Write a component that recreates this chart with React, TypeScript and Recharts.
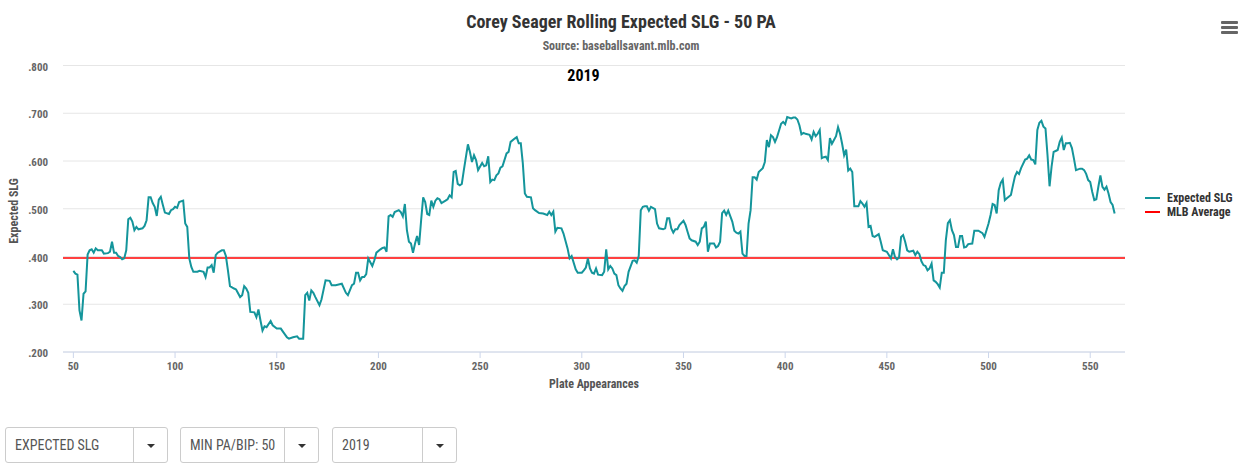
import { LineChart, Line, XAxis, YAxis, CartesianGrid, ReferenceLine } from "recharts";

const FONT = "'Roboto Condensed', 'Liberation Sans Narrow', 'DejaVu Sans Condensed', Roboto, sans-serif";

// plate appearance (x) and rolling xSLG (y)
const plateAppearances = [
  50, 51, 52, 53, 54, 55, 56, 57, 58, 59,
  60, 61, 62, 64, 65, 67, 68, 69, 70, 71,
  72, 73, 74, 75, 76, 77, 78, 79, 80, 81,
  82, 84, 85, 86, 87, 88, 89, 90, 91, 92,
  93, 94, 95, 97, 98, 99, 100, 101, 102, 104,
  105, 106, 107, 108, 109, 111, 112, 114, 115, 116,
  117, 118, 119, 120, 121, 123, 124, 125, 126, 127,
  129, 130, 132, 133, 134, 135, 136, 137, 139, 140,
  141, 142, 143, 144, 145, 147, 148, 150, 152, 154,
  155, 156, 158, 160, 161, 163, 164, 165, 166, 167,
  168, 169, 171, 172, 174, 176, 177, 179, 182, 184,
  185, 187, 188, 189, 190, 191, 192, 193, 194, 195,
  197, 198, 199, 201, 202, 203, 204, 205, 206, 207,
  208, 210, 211, 212, 213, 214, 215, 216, 217, 218,
  219, 220, 221, 222, 223, 224, 225, 226, 227, 228,
  229, 230, 231, 233, 234, 235, 236, 237, 238, 239,
  240, 241, 242, 244, 245, 246, 247, 248, 249, 251,
  252, 253, 254, 255, 256, 257, 258, 259, 260, 261,
  263, 264, 265, 267, 268, 269, 270, 271, 272, 273,
  275, 276, 277, 279, 281, 283, 284, 285, 286, 287,
  288, 290, 291, 293, 294, 295, 297, 298, 300, 301,
  302, 303, 304, 305, 306, 307, 308, 310, 311, 312,
  313, 314, 315, 316, 317, 318, 319, 320, 321, 322,
  323, 325, 326, 327, 328, 329, 330, 331, 332, 333,
  334, 336, 337, 338, 340, 341, 342, 343, 344, 345,
  346, 347, 348, 350, 351, 352, 353, 354, 356, 357,
  358, 359, 360, 361, 362, 363, 365, 366, 367, 368,
  369, 370, 371, 372, 374, 375, 376, 377, 378, 379,
  380, 381, 382, 383, 384, 385, 386, 387, 389, 390,
  391, 392, 393, 394, 395, 396, 397, 398, 399, 400,
  401, 403, 404, 405, 406, 407, 408, 409, 410, 412,
  413, 414, 415, 416, 417, 418, 419, 420, 421, 422,
  423, 425, 426, 427, 428, 429, 430, 431, 432, 433,
  434, 436, 437, 438, 439, 440, 441, 442, 443, 444,
  446, 447, 448, 450, 452, 453, 454, 455, 456, 457,
  458, 459, 460, 461, 463, 464, 465, 466, 467, 468,
  469, 470, 471, 472, 473, 474, 475, 476, 477, 478,
  479, 480, 481, 482, 483, 484, 485, 486, 487, 488,
  489, 490, 492, 493, 495, 497, 498, 499, 500, 501,
  502, 503, 504, 505, 506, 507, 508, 509, 511, 512,
  513, 514, 515, 516, 518, 519, 520, 521, 522, 523,
  524, 525, 526, 527, 528, 529, 530, 531, 532, 533,
  534, 535, 536, 537, 538, 539, 540, 541, 542, 543,
  545, 546, 547, 548, 549, 550, 551, 552, 553, 554,
  555, 556, 557, 558, 559, 560, 561, 562,
];

const expectedSlg = [
  .370, .364, .362, .287, .266, .322, .327, .404, .413, .415,
  .408, .417, .413, .413, .406, .407, .410, .431, .408, .408,
  .401, .399, .394, .396, .413, .478, .481, .473, .455, .462,
  .457, .459, .464, .476, .524, .524, .512, .504, .485, .519,
  .525, .508, .492, .489, .497, .499, .504, .502, .514, .517,
  .469, .462, .396, .378, .368, .368, .370, .368, .357, .377,
  .377, .382, .366, .403, .408, .413, .413, .401, .371, .338,
  .333, .331, .315, .319, .338, .333, .324, .284, .283, .273,
  .289, .266, .245, .254, .252, .265, .256, .249, .249, .237,
  .231, .228, .231, .233, .228, .228, .319, .324, .308, .329,
  .324, .315, .298, .310, .350, .349, .340, .340, .343, .324,
  .319, .340, .343, .366, .366, .350, .357, .357, .363, .396,
  .380, .392, .408, .415, .418, .419, .410, .484, .487, .483,
  .493, .497, .493, .484, .510, .455, .431, .427, .408, .427,
  .443, .424, .476, .524, .514, .489, .487, .517, .504, .517,
  .522, .520, .512, .517, .520, .528, .524, .577, .579, .552,
  .549, .552, .581, .635, .619, .598, .612, .602, .581, .596,
  .589, .591, .610, .556, .561, .560, .570, .574, .586, .589,
  .616, .619, .640, .647, .650, .637, .637, .595, .532, .525,
  .524, .501, .497, .491, .490, .487, .494, .487, .494, .452,
  .460, .459, .448, .417, .396, .401, .373, .366, .366, .371,
  .377, .396, .375, .366, .364, .375, .362, .361, .368, .415,
  .373, .380, .375, .364, .361, .340, .333, .328, .338, .343,
  .368, .391, .392, .387, .401, .497, .504, .505, .505, .496,
  .504, .499, .469, .459, .457, .459, .480, .480, .459, .450,
  .457, .457, .466, .475, .466, .452, .438, .434, .431, .424,
  .431, .459, .462, .473, .410, .427, .427, .419, .422, .431,
  .491, .496, .487, .496, .473, .454, .450, .448, .452, .406,
  .401, .401, .469, .497, .566, .566, .561, .577, .585, .598,
  .644, .629, .654, .650, .640, .650, .664, .678, .682, .677,
  .692, .689, .691, .691, .687, .675, .656, .659, .657, .655,
  .645, .661, .652, .657, .665, .606, .608, .609, .602, .648,
  .636, .652, .671, .657, .636, .612, .624, .580, .584, .577,
  .505, .505, .516, .511, .504, .512, .462, .464, .443, .441,
  .447, .431, .413, .410, .396, .415, .399, .394, .398, .441,
  .445, .431, .413, .410, .412, .403, .410, .405, .390, .382,
  .380, .371, .375, .385, .350, .347, .342, .335, .366, .366,
  .434, .470, .476, .455, .445, .420, .420, .443, .443, .419,
  .420, .426, .427, .454, .454, .449, .441, .455, .469, .487,
  .510, .508, .490, .539, .554, .561, .518, .522, .529, .549,
  .568, .577, .573, .585, .603, .605, .612, .603, .602, .593,
  .665, .680, .684, .672, .668, .612, .547, .588, .619, .621,
  .623, .640, .649, .623, .637, .637, .638, .627, .605, .581,
  .584, .584, .581, .573, .560, .556, .535, .518, .520, .546,
  .570, .546, .540, .546, .532, .514, .508, .490,
];

const mlbAverage = 0.397;
const yTicks = [0.2, 0.3, 0.4, 0.5, 0.6, 0.7, 0.8];
const xTicks = [50, 100, 150, 200, 250, 300, 350, 400, 450, 500, 550];
const dropdowns = ["EXPECTED SLG", "MIN PA/BIP: 50", "2019"];
const dropdownBoxes = [
  { left: 5, width: 163, split: 127 },
  { left: 180, width: 139, split: 103 },
  { left: 332, width: 125, split: 89 },
];

const TEAL = "#14959b";

const data = plateAppearances.map((pa, i) => ({ pa, xslg: expectedSlg[i] }));

const fmt = (v: number) => v.toFixed(3).replace(/^0/, "");

function YTick(props: any) {
  const { y, payload } = props;
  return (
    <text x={48} y={y + 5} textAnchor="end" fontFamily={FONT} fontSize={11} fontWeight={700} fill="#666">
      {fmt(payload.value)}
    </text>
  );
}

function XTick(props: any) {
  const { x, payload } = props;
  return (
    <text x={x} y={370} textAnchor="middle" fontFamily={FONT} fontSize={11} fontWeight={700} fill="#666">
      {payload.value}
    </text>
  );
}

export default function App() {
  return (
    <div style={{ position: "relative", width: 1242, height: 474, background: "#fff", fontFamily: FONT, overflow: "hidden" }}>
      <style>{"body{margin:0}"}</style>
      <div style={{ position: "absolute", left: 0, top: 11, width: 1242, textAlign: "center", fontSize: 18, fontWeight: 700, color: "#333" }}>
        Corey Seager Rolling Expected SLG - 50 PA
      </div>
      <div style={{ position: "absolute", left: 0, top: 39, width: 1242, textAlign: "center", fontSize: 12, fontWeight: 700, color: "#666" }}>
        Source: baseballsavant.mlb.com
      </div>
      <div style={{ position: "absolute", left: 0, top: 0, width: 1242, height: 474 }}>
        <LineChart width={1242} height={400} data={data} margin={{ top: 65.5, right: 117, bottom: 18, left: 0 }}>
          <CartesianGrid vertical={false} stroke="#e6e6e6" />
          <XAxis
            dataKey="pa"
            type="number"
            domain={[44.9, 567.1]}
            ticks={xTicks}
            height={30}
            stroke="#ccd6eb"
            tickLine={{ stroke: "#ccd6eb" }}
            tick={<XTick />}
            allowDataOverflow
          />
          <YAxis
            type="number"
            domain={[0.2, 0.8]}
            ticks={yTicks}
            width={63}
            axisLine={false}
            tickLine={false}
            tick={<YTick />}
          />
          <ReferenceLine y={mlbAverage} stroke="#ff0000" strokeWidth={1.5} />
          <Line
            dataKey="xslg"
            type="linear"
            stroke={TEAL}
            strokeWidth={2}
            dot={false}
            isAnimationActive={false}
          />
        </LineChart>
      </div>
      <div style={{ position: "absolute", left: 0, top: 66, width: 1167, textAlign: "center", fontSize: 16, fontWeight: 700, color: "#000" }}>
        2019
      </div>
      <div
        style={{
          position: "absolute",
          left: 14,
          top: 211,
          transform: "translate(-50%, -50%) rotate(-90deg)",
          fontSize: 12,
          fontWeight: 700,
          color: "#555",
          whiteSpace: "nowrap",
        }}
      >
        Expected SLG
      </div>
      <div style={{ position: "absolute", left: 63, top: 377, width: 1062, textAlign: "center", fontSize: 12, fontWeight: 700, color: "#555" }}>
        Plate Appearances
      </div>
      {/* legend */}
      {[
        { label: "Expected SLG", color: TEAL, top: 191 },
        { label: "MLB Average", color: "#ff0000", top: 205 },
      ].map((item) => (
        <div key={item.label} style={{ position: "absolute", left: 1145, top: item.top, display: "flex", alignItems: "center", height: 14 }}>
          <div style={{ width: 15, height: 2, background: item.color, marginRight: 7 }} />
          <span style={{ fontSize: 12, fontWeight: 700, color: "#333", whiteSpace: "nowrap" }}>{item.label}</span>
        </div>
      ))}
      {/* menu icon */}
      {[21, 26, 31].map((t) => (
        <div key={t} style={{ position: "absolute", left: 1221, top: t, width: 17, height: 2.5, background: "#666", borderRadius: 1 }} />
      ))}
      {/* dropdowns */}
      {dropdowns.map((label, i) => {
        const b = dropdownBoxes[i];
        return (
          <div
            key={label}
            style={{
              position: "absolute",
              left: b.left,
              top: 427,
              width: b.width,
              height: 36,
              border: "1px solid #ccc",
              borderRadius: 3,
              boxSizing: "border-box",
            }}
          >
            <div style={{ position: "absolute", left: 9, top: 9, fontSize: 14, color: "#555", whiteSpace: "nowrap" }}>{label}</div>
            <div style={{ position: "absolute", left: b.split, top: 0, width: 1, height: 34, background: "#ccc" }} />
            <div
              style={{
                position: "absolute",
                left: b.split + 14,
                top: 16,
                width: 0,
                height: 0,
                borderLeft: "4px solid transparent",
                borderRight: "4px solid transparent",
                borderTop: "4px solid #333",
              }}
            />
          </div>
        );
      })}
    </div>
  );
}
